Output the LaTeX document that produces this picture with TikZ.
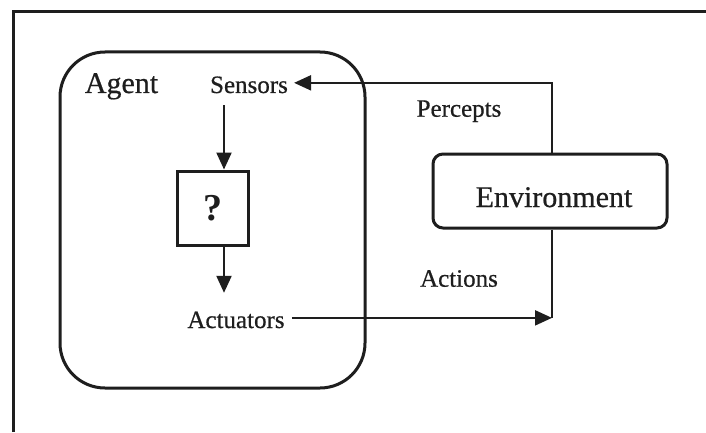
\documentclass[tikz,border=0pt]{standalone}
\usepackage{fontspec}
\setmainfont{Liberation Serif}
\newfontfamily\heavyserif{Liberation Serif}[FakeBold=0.6]
\usetikzlibrary{arrows.meta,calc}
\definecolor{ink}{RGB}{30,30,30}
\begin{document}
\begin{tikzpicture}[x=1pt,y=1pt,
  lbl/.style={inner sep=0pt, text=ink, font=\heavyserif\fontsize{25}{30}\selectfont, anchor=base},
  big/.style={inner sep=0pt, text=ink, font=\heavyserif\fontsize{30}{36}\selectfont, anchor=base},
  boxr/.style={draw=ink, line width=3pt, inner sep=0pt},
  arr/.style={draw=ink, line width=2.2pt, -{Triangle[length=17pt,width=15pt]}},
  conn/.style={draw=ink, line width=2.2pt}]
\useasboundingbox (0,0) rectangle (706,432);
\fill[white] (0,0) rectangle (706,432);
% outer frame (top and left edges)
\draw[ink, line width=3.2pt] (13.3,0) -- (13.3,420.3) -- (706,420.3);
% agent
\node[boxr, rounded corners=45pt, minimum width=305pt, minimum height=336pt] (agent) at (212.5,212) {};
\node[big] (agentlbl) at (121.5,339) {Agent};
\node[lbl] (sensors) at (249,339) {Sensors};
\node[boxr, minimum width=71pt, minimum height=74pt, text=ink, font=\fontsize{38}{44}\selectfont\bfseries] (q) at (212.5,224) {?};
\node[lbl] (actuators) at (236,104) {Actuators};
% environment
\node[boxr, rounded corners=10pt, minimum width=234pt, minimum height=74pt] (env) at (550,241) {};
\node[big] (envlbl) at (554,225) {Environment};
\node[lbl] (percepts) at (459,315.3) {Percepts};
\node[lbl] (actions) at (459,145.3) {Actions};
% connectors
\coordinate (ax) at (224,0);
\draw[arr] ($(sensors.south -| ax)+(0,-12)$) -- (q.north -| ax);
\draw[arr] (q.south -| ax) -- ($(actuators.north -| ax)+(0,18.5)$);
\draw[arr] ($(env.north)+(2,0)$) |- ($(sensors.east)+(6,2)$);
\coordinate (corner) at ($(actuators.east -| env.south)+(2,2)$);
\draw[conn] ($(env.south)+(2,0)$) -- (corner);
\draw[arr] ($(actuators.east)+(7,2)$) -- (corner);
\end{tikzpicture}
\end{document}
